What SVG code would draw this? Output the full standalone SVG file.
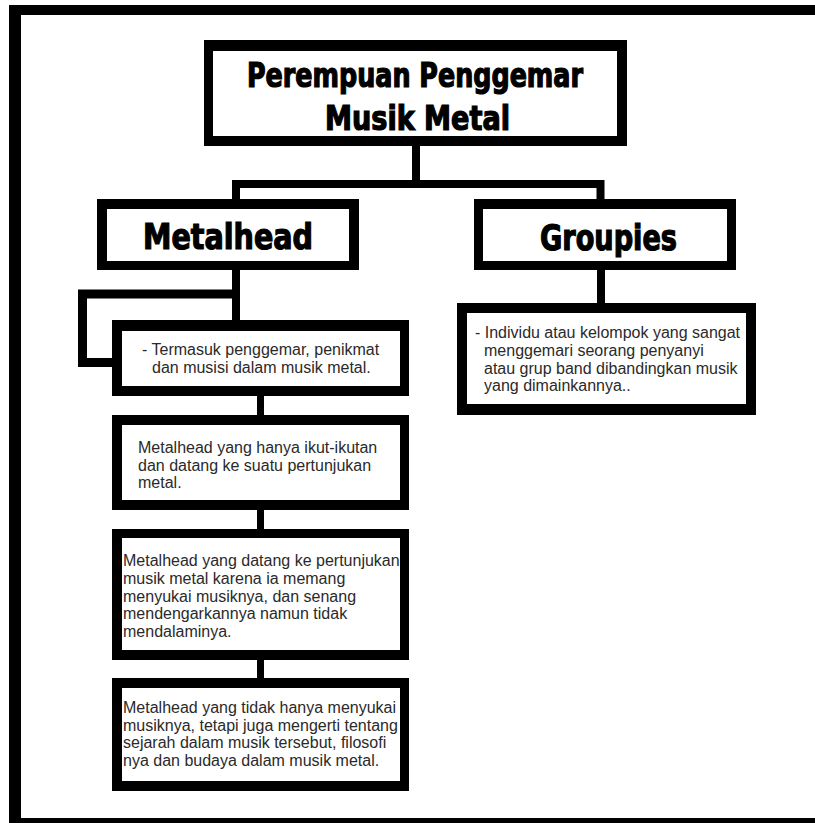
<svg xmlns="http://www.w3.org/2000/svg" width="815" height="823" viewBox="0 0 815 823">
<style>
.frame{fill:#000}
.outer{fill:#000}
.inner{fill:#fff}
.conn{fill:none;stroke:#000;stroke-linejoin:miter;stroke-linecap:butt}
.head{font-family:"Liberation Sans Narrow","DejaVu Sans Condensed","Liberation Sans",sans-serif;font-weight:bold;fill:#000;stroke:#000;stroke-width:1.2;text-anchor:middle}
.body{font-family:"Liberation Sans",Arial,sans-serif;font-size:16px;fill:#2a2a2a}
</style>
<rect width="815" height="823" fill="#fff"/>
<g id="frame">
<rect class="frame" x="9" y="5" width="806" height="10"/>
<rect class="frame" x="9" y="5" width="12" height="818"/>
<rect class="frame" x="9" y="818" width="806" height="5"/>
</g>
<g id="connectors">
<path class="conn" stroke-width="8" d="M416 146 V184"/>
<path class="conn" stroke-width="8" d="M236 200 V184 H600.5 V200"/>
<path class="conn" stroke-width="8" d="M236 270 V321"/>
<path class="conn" stroke-width="9" d="M236 294 H82.5 V362.5 H113"/>
<path class="conn" stroke-width="7" d="M260.5 396 V416"/>
<path class="conn" stroke-width="7" d="M260.5 510 V530"/>
<path class="conn" stroke-width="7" d="M260.5 660 V679"/>
<path class="conn" stroke-width="8" d="M601 270 V304"/>
</g>
<g id="title">
<rect class="outer" x="204" y="40" width="423" height="106"/>
<rect class="inner" x="213" y="51" width="404" height="85"/>
<text class="head" x="415" y="87" font-size="33" textLength="336" lengthAdjust="spacingAndGlyphs">Perempuan Penggemar</text>
<text class="head" x="417.5" y="130" font-size="33" textLength="185" lengthAdjust="spacingAndGlyphs">Musik Metal</text>
</g>
<g id="metalhead">
<rect class="outer" x="97" y="199" width="262" height="71"/>
<rect class="inner" x="107" y="209" width="242" height="52"/>
<text class="head" x="228" y="249" font-size="36" textLength="170" lengthAdjust="spacingAndGlyphs">Metalhead</text>
</g>
<g id="groupies">
<rect class="outer" x="474" y="199" width="262" height="71"/>
<rect class="inner" x="483" y="209" width="244" height="52"/>
<text class="head" x="608.5" y="250" font-size="36" textLength="137" lengthAdjust="spacingAndGlyphs">Groupies</text>
</g>
<g id="metalhead-def">
<rect class="outer" x="112" y="320" width="297" height="76"/>
<rect class="inner" x="122" y="331" width="278" height="55"/>
<text class="body" x="142" y="355">- Termasuk penggemar, penikmat</text>
<text class="body" x="152" y="373">dan musisi dalam musik metal.</text>
</g>
<g id="metalhead-1">
<rect class="outer" x="112" y="415" width="297" height="95"/>
<rect class="inner" x="122" y="425" width="278" height="75"/>
<text class="body" x="138" y="453">Metalhead yang hanya ikut-ikutan</text>
<text class="body" x="138" y="470.5">dan datang ke suatu pertunjukan</text>
<text class="body" x="138" y="488">metal.</text>
</g>
<g id="metalhead-2">
<rect class="outer" x="112" y="529" width="297" height="131"/>
<rect class="inner" x="122" y="538" width="278" height="112"/>
<text class="body" x="123" y="566">Metalhead yang datang ke pertunjukan</text>
<text class="body" x="123" y="584">musik metal karena ia memang</text>
<text class="body" x="123" y="601.5">menyukai musiknya, dan senang</text>
<text class="body" x="123" y="619">mendengarkannya namun tidak</text>
<text class="body" x="123" y="637">mendalaminya.</text>
</g>
<g id="metalhead-3">
<rect class="outer" x="112" y="678" width="297" height="113"/>
<rect class="inner" x="122" y="688" width="278" height="93"/>
<text class="body" x="123" y="713">Metalhead yang tidak hanya menyukai</text>
<text class="body" x="123" y="730.5">musiknya, tetapi juga mengerti tentang</text>
<text class="body" x="123" y="748">sejarah dalam musik tersebut, filosofi</text>
<text class="body" x="123" y="765.5">nya dan budaya dalam musik metal.</text>
</g>
<g id="groupies-def">
<rect class="outer" x="457" y="303" width="299" height="112"/>
<rect class="inner" x="467" y="313" width="279" height="91"/>
<text class="body" x="475" y="338">- Individu atau kelompok yang sangat</text>
<text class="body" x="484" y="356">menggemari seorang penyanyi</text>
<text class="body" x="484" y="373.5">atau grup band dibandingkan musik</text>
<text class="body" x="484" y="391">yang dimainkannya..</text>
</g>
</svg>
